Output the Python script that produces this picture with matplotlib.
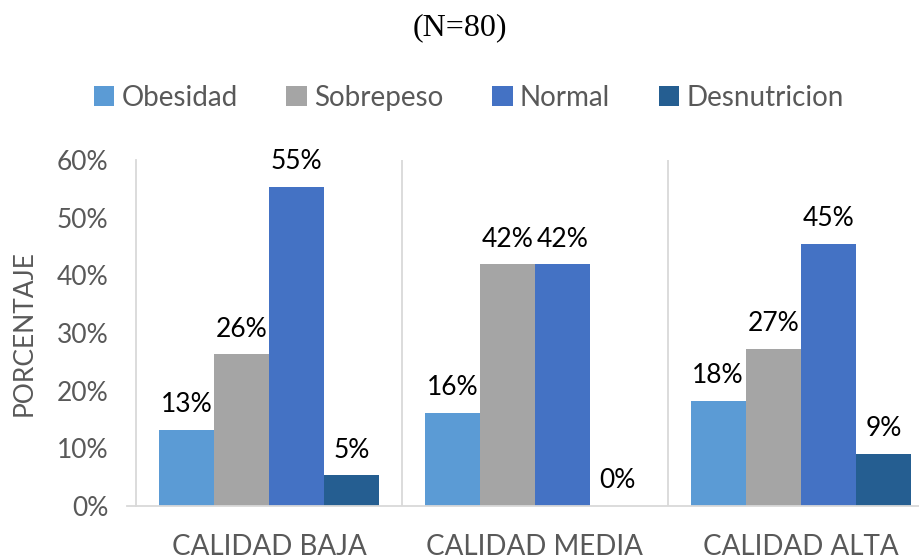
import matplotlib
matplotlib.use("Agg")
import matplotlib.pyplot as plt
import numpy as np
from matplotlib.patches import Patch

categories = ["CALIDAD BAJA", "CALIDAD MEDIA", "CALIDAD ALTA"]
series = ["Obesidad", "Sobrepeso", "Normal", "Desnutricion"]
obesidad = [0.132, 0.161, 0.182]
sobrepeso = [0.263, 0.419, 0.273]
normal = [0.553, 0.419, 0.454]
desnutricion = [0.053, 0.0, 0.091]
yticks = [0, 0.1, 0.2, 0.3, 0.4, 0.5, 0.6]
title = "(N=80)"
ylabel = "PORCENTAJE"

colors = ["#5B9BD5", "#A5A5A5", "#4472C4", "#255E91"]
values = [obesidad, sobrepeso, normal, desnutricion]

plt.rcParams['font.family'] = ['Lato', 'DejaVu Sans']
fig = plt.figure(figsize=(9.19, 5.59), dpi=100)
ax = fig.add_axes([0.148, 0.0948, 0.868, 0.619])

x = np.arange(len(categories))
w = 0.207
for i, (vals, col) in enumerate(zip(values, colors)):
    pos = x + (i - 1.5) * w
    ax.bar(pos, vals, width=w, color=col, label=series[i], zorder=2)
    for p, v in zip(pos, vals):
        ax.text(p, v + 0.022, f"{v*100:.0f}%", ha="center", va="bottom",
                fontsize=19, color="black")

ax.set_xlim(-0.5, 2.5)
ax.set_ylim(0, 0.6)
ax.set_yticks(yticks)
ax.set_yticklabels([f"{t*100:.0f}%" for t in yticks])
ax.set_xticks(x)
ax.set_xticklabels(categories)
ax.tick_params(axis="y", length=0, pad=20, labelsize=19, labelcolor="#595959")
ax.tick_params(axis="x", length=0, pad=20, labelsize=20, labelcolor="#595959")
for s in ["top", "right"]:
    ax.spines[s].set_visible(False)
ax.spines["left"].set_color("#D9D9D9")
ax.spines["bottom"].set_color("#D9D9D9")
ax.spines["left"].set_linewidth(1.3)
ax.spines["bottom"].set_linewidth(1.3)
for b in [0.5, 1.5]:
    ax.axvline(b, color="#D9D9D9", lw=1.3, zorder=1)
ax.plot([-0.535, -0.5], [0, 0], color="#D9D9D9", lw=1.3, clip_on=False)

ax.set_ylabel(ylabel, fontsize=19, color="#595959")
ax.yaxis.set_label_coords(-0.125, 0.5)

fig.text(0.5, 0.95, title, ha="center", va="center", fontsize=23,
         family="Liberation Serif", color="black")

handles = [Patch(facecolor=c, label=s) for c, s in zip(colors, series)]
fig.legend(handles=handles, loc="center", bbox_to_anchor=(0.51, 0.825), ncol=4,
           frameon=False, fontsize=20, handlelength=0.75, handleheight=0.75,
           handletextpad=0.25, columnspacing=1.75, labelcolor="#595959")

fig.savefig("out.png", dpi=100)
